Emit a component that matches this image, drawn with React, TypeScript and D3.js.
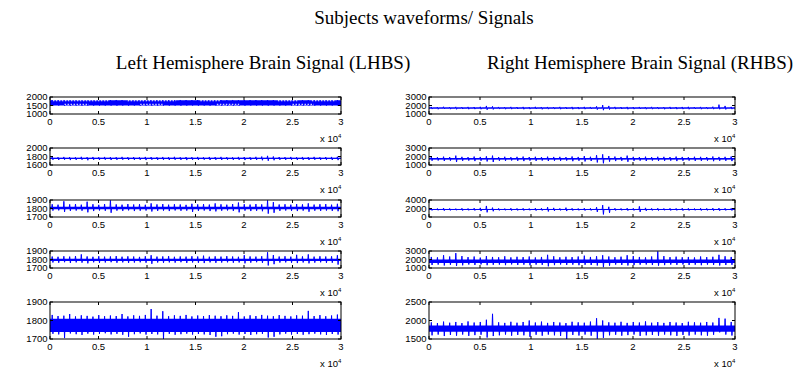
import React from 'react';
import * as d3 from 'd3';

// x axis is in samples, labelled in units of 10^4
const xTicks = [0, 5000, 10000, 15000, 20000, 25000, 30000];
const xTickLabels = ['0', '0.5', '1', '1.5', '2', '2.5', '3'];
const STEP = 600; // one envelope value every 600 samples

const titleMain = 'Subjects waveforms/ Signals';
const titleLeft = 'Left Hemisphere Brain Signal (LHBS)';
const titleRight = 'Right Hemisphere Brain Signal (RHBS)';

// ---- Left hemisphere ----
const lh1Domain = [1000, 2000];
const lh1Ticks = [1000, 1500, 2000];
const lh1Core = [1500, 1815];
const lh1Hi = [1822, 1818, 1824, 1820, 1816, 1822, 1819, 1823, 1817, 1821, 1820, 1824, 1818, 1822, 1816, 1821, 1819, 1823, 1820, 1817, 1822, 1818, 1824, 1820, 1816, 1822, 1819, 1823, 1817, 1821, 1820, 1824, 1818, 1822, 1816, 1821, 1819, 1823, 1820, 1817, 1822, 1818, 1824, 1820, 1816, 1822, 1819, 1823, 1817, 1821];
const lh1Lo = [1495, 1498, 1492, 1496, 1500, 1494, 1497, 1493, 1499, 1495, 1496, 1492, 1498, 1494, 1500, 1495, 1497, 1493, 1496, 1499, 1494, 1498, 1492, 1496, 1500, 1494, 1497, 1493, 1499, 1495, 1496, 1492, 1498, 1494, 1500, 1495, 1497, 1493, 1496, 1499, 1494, 1498, 1492, 1496, 1500, 1494, 1497, 1493, 1499, 1495];
// white dotted aliasing rows inside the first band: [start, end, level]
const lh1Dots = [
  [300, 6000, 1780], [8000, 13000, 1780], [15500, 17500, 1780], [23500, 25500, 1780], [27000, 29500, 1780],
  [1500, 4000, 1570], [9300, 11600, 1570], [17200, 19500, 1570], [25000, 27200, 1570],
];

const lh2Domain = [1600, 2000];
const lh2Ticks = [1600, 1800, 2000];
const lh2Core = [1742, 1770];
const lh2Hi = [1788, 1784, 1790, 1786, 1782, 1792, 1785, 1789, 1783, 1790, 1786, 1784, 1791, 1785, 1788, 1782, 1790, 1787, 1784, 1789, 1785, 1792, 1783, 1788, 1786, 1790, 1784, 1789, 1785, 1791, 1786, 1783, 1790, 1788, 1784, 1792, 1798, 1815, 1800, 1788, 1785, 1790, 1784, 1789, 1786, 1791, 1783, 1788, 1790, 1794];
const lh2Lo = [1722, 1718, 1724, 1716, 1720, 1725, 1712, 1722, 1719, 1724, 1717, 1721, 1725, 1718, 1720, 1722, 1716, 1724, 1719, 1721, 1718, 1723, 1720, 1716, 1722, 1719, 1724, 1717, 1721, 1718, 1723, 1720, 1722, 1716, 1721, 1719, 1712, 1700, 1712, 1722, 1719, 1724, 1717, 1721, 1718, 1723, 1720, 1722, 1718, 1715];

const lh3Domain = [1700, 1900];
const lh3Ticks = [1700, 1800, 1900];
const lh3Core = [1790, 1822];
const lh3Hi = [1850, 1845, 1885, 1848, 1852, 1845, 1880, 1850, 1843, 1852, 1895, 1848, 1845, 1852, 1847, 1850, 1844, 1860, 1848, 1852, 1845, 1850, 1847, 1843, 1855, 1848, 1851, 1846, 1860, 1849, 1845, 1852, 1870, 1850, 1846, 1852, 1848, 1895, 1875, 1847, 1850, 1845, 1852, 1848, 1860, 1846, 1850, 1852, 1845, 1855];
const lh3Lo = [1775, 1778, 1760, 1772, 1776, 1774, 1755, 1770, 1777, 1773, 1750, 1775, 1772, 1778, 1770, 1774, 1776, 1765, 1772, 1775, 1770, 1777, 1773, 1775, 1760, 1772, 1776, 1770, 1766, 1774, 1777, 1772, 1755, 1775, 1770, 1773, 1768, 1740, 1750, 1772, 1776, 1773, 1770, 1775, 1762, 1774, 1771, 1776, 1772, 1768];

const lh4Domain = [1700, 1900];
const lh4Ticks = [1700, 1800, 1900];
const lh4Core = [1782, 1810];
const lh4Hi = [1835, 1832, 1838, 1834, 1840, 1860, 1836, 1832, 1838, 1834, 1836, 1840, 1833, 1837, 1835, 1831, 1838, 1850, 1834, 1836, 1839, 1832, 1836, 1834, 1838, 1835, 1845, 1833, 1837, 1834, 1839, 1835, 1832, 1850, 1836, 1834, 1838, 1885, 1852, 1835, 1838, 1833, 1855, 1836, 1860, 1834, 1838, 1835, 1837, 1850];
const lh4Lo = [1765, 1762, 1768, 1760, 1766, 1763, 1755, 1767, 1761, 1765, 1768, 1762, 1766, 1760, 1764, 1767, 1762, 1750, 1765, 1761, 1766, 1763, 1768, 1760, 1765, 1762, 1758, 1766, 1761, 1764, 1767, 1762, 1765, 1755, 1763, 1768, 1761, 1730, 1745, 1764, 1766, 1762, 1758, 1765, 1755, 1763, 1767, 1761, 1762, 1740];

const lh5Domain = [1700, 1900];
const lh5Ticks = [1700, 1800, 1900];
const lh5Core = [1738, 1810];
const lh5Hi = [1830, 1824, 1826, 1835, 1822, 1828, 1825, 1821, 1829, 1823, 1827, 1824, 1835, 1822, 1828, 1825, 1830, 1862, 1826, 1850, 1823, 1828, 1825, 1830, 1822, 1827, 1824, 1829, 1826, 1823, 1828, 1825, 1845, 1822, 1828, 1824, 1830, 1826, 1823, 1829, 1825, 1822, 1828, 1826, 1852, 1824, 1829, 1823, 1827, 1832];
const lh5Lo = [1728, 1725, 1705, 1730, 1726, 1722, 1729, 1724, 1727, 1731, 1725, 1728, 1723, 1712, 1726, 1730, 1724, 1727, 1725, 1700, 1728, 1723, 1726, 1729, 1724, 1727, 1725, 1722, 1712, 1715, 1726, 1729, 1724, 1727, 1722, 1726, 1728, 1708, 1712, 1725, 1729, 1724, 1727, 1723, 1726, 1729, 1725, 1722, 1727, 1724];

// ---- Right hemisphere ----
const rh1Domain = [1000, 3000];
const rh1Ticks = [1000, 2000, 3000];
const rh1Core = [1640, 1760];
const rh1Hi = [1830, 1810, 1850, 1820, 1840, 1815, 1835, 1825, 1845, 1950, 1900, 1830, 1815, 1840, 1820, 1835, 1810, 1845, 1825, 1830, 1815, 1840, 1820, 1835, 1825, 1840, 1830, 1900, 2050, 1950, 1840, 1820, 1835, 1815, 1830, 1825, 1840, 1820, 1815, 1835, 1825, 1830, 1845, 1815, 1835, 1820, 1860, 2100, 1950, 1840];
const rh1Lo = [1580, 1560, 1590, 1570, 1555, 1585, 1565, 1575, 1560, 1500, 1540, 1580, 1565, 1570, 1590, 1560, 1575, 1585, 1555, 1570, 1580, 1565, 1590, 1560, 1575, 1570, 1585, 1520, 1450, 1530, 1570, 1585, 1560, 1575, 1590, 1565, 1570, 1580, 1560, 1585, 1570, 1575, 1560, 1590, 1565, 1580, 1570, 1560, 1540, 1575];

const rh2Domain = [1000, 3000];
const rh2Ticks = [1000, 2000, 3000];
const rh2Core = [1650, 1810];
const rh2Hi = [1950, 1920, 1980, 1940, 2100, 1960, 1930, 1990, 1950, 2020, 2100, 1940, 1970, 1920, 1960, 1990, 1940, 1970, 1930, 1980, 1950, 1960, 1930, 2000, 1950, 2050, 1970, 2150, 2250, 2050, 1990, 1950, 2100, 1960, 1940, 1980, 1930, 1970, 1960, 1940, 1990, 1950, 1930, 1970, 1960, 1940, 2000, 1950, 1960, 2000];
const rh2Lo = [1500, 1530, 1470, 1510, 1350, 1490, 1520, 1460, 1500, 1420, 1350, 1500, 1480, 1530, 1490, 1460, 1510, 1480, 1520, 1470, 1500, 1490, 1520, 1450, 1500, 1420, 1470, 1300, 1200, 1400, 1460, 1500, 1380, 1490, 1510, 1470, 1520, 1480, 1490, 1510, 1460, 1500, 1520, 1480, 1490, 1510, 1450, 1500, 1490, 1460];

const rh3Domain = [0, 4000];
const rh3Ticks = [0, 2000, 4000];
const rh3Core = [1650, 1900];
const rh3Hi = [2050, 2000, 2100, 2020, 1980, 2060, 2010, 2080, 2150, 2600, 2200, 2040, 1990, 2070, 2020, 2050, 2000, 2080, 2060, 2300, 2150, 2030, 2200, 2050, 2010, 2070, 2040, 2300, 2800, 2400, 2060, 2020, 2080, 2050, 2500, 2150, 2030, 2060, 2010, 2050, 2020, 2070, 2040, 2000, 2060, 2030, 2080, 2100, 2050, 2060];
const rh3Lo = [1550, 1580, 1500, 1560, 1590, 1520, 1570, 1540, 1400, 1100, 1350, 1560, 1580, 1520, 1550, 1530, 1580, 1510, 1540, 1300, 1450, 1560, 1400, 1530, 1570, 1520, 1550, 1200, 600, 1000, 1540, 1570, 1510, 1550, 1200, 1450, 1560, 1530, 1580, 1540, 1560, 1520, 1550, 1580, 1530, 1560, 1500, 1480, 1550, 1540];

const rh4Domain = [1000, 3000];
const rh4Ticks = [1000, 2000, 3000];
const rh4Core = [1600, 2000];
const rh4Hi = [2300, 2250, 2500, 2350, 2750, 2400, 2280, 2350, 2220, 2400, 2300, 2260, 2380, 2250, 2320, 2280, 2350, 2240, 2300, 2550, 2380, 2260, 2320, 2280, 2350, 2450, 2300, 2380, 2500, 2350, 2270, 2330, 2500, 2400, 2300, 2250, 2350, 2950, 2400, 2280, 2330, 2260, 2300, 2240, 2350, 2280, 2320, 2550, 2380, 2300];
const rh4Lo = [1350, 1400, 1300, 1380, 1250, 1320, 1410, 1360, 1420, 1330, 1380, 1400, 1340, 1420, 1360, 1390, 1330, 1400, 1370, 1200, 1340, 1410, 1360, 1390, 1330, 1380, 1350, 1300, 1100, 1280, 1400, 1360, 1300, 1340, 1390, 1410, 1350, 1280, 1340, 1400, 1370, 1410, 1350, 1390, 1330, 1400, 1360, 1300, 1350, 1380];

const rh5Domain = [1500, 2500];
const rh5Ticks = [1500, 2000, 2500];
const rh5Core = [1695, 1865];
const rh5Hi = [1950, 1930, 1970, 1940, 1960, 1930, 1975, 1945, 1960, 2020, 2180, 1950, 1935, 1965, 1940, 1960, 2000, 1945, 1970, 1935, 1960, 1945, 1930, 1965, 1950, 1940, 1970, 2060, 2000, 1950, 1940, 1965, 1935, 1960, 1945, 1975, 1940, 1955, 1935, 1960, 1945, 1930, 1965, 1950, 1940, 1960, 1945, 2070, 2050, 1960];
const rh5Lo = [1600, 1620, 1580, 1610, 1590, 1620, 1585, 1605, 1615, 1540, 1580, 1600, 1620, 1590, 1610, 1600, 1560, 1615, 1590, 1620, 1600, 1585, 1500, 1610, 1595, 1620, 1590, 1510, 1530, 1600, 1615, 1590, 1605, 1620, 1585, 1600, 1610, 1590, 1620, 1600, 1585, 1610, 1595, 1620, 1600, 1590, 1615, 1680, 1620, 1595];

type Panel = { domain: number[]; ticks: number[]; core: number[]; hi: number[]; lo: number[] };

const leftPanels: Panel[] = [
  { domain: lh1Domain, ticks: lh1Ticks, core: lh1Core, hi: lh1Hi, lo: lh1Lo },
  { domain: lh2Domain, ticks: lh2Ticks, core: lh2Core, hi: lh2Hi, lo: lh2Lo },
  { domain: lh3Domain, ticks: lh3Ticks, core: lh3Core, hi: lh3Hi, lo: lh3Lo },
  { domain: lh4Domain, ticks: lh4Ticks, core: lh4Core, hi: lh4Hi, lo: lh4Lo },
  { domain: lh5Domain, ticks: lh5Ticks, core: lh5Core, hi: lh5Hi, lo: lh5Lo },
];
const rightPanels: Panel[] = [
  { domain: rh1Domain, ticks: rh1Ticks, core: rh1Core, hi: rh1Hi, lo: rh1Lo },
  { domain: rh2Domain, ticks: rh2Ticks, core: rh2Core, hi: rh2Hi, lo: rh2Lo },
  { domain: rh3Domain, ticks: rh3Ticks, core: rh3Core, hi: rh3Hi, lo: rh3Lo },
  { domain: rh4Domain, ticks: rh4Ticks, core: rh4Core, hi: rh4Hi, lo: rh4Lo },
  { domain: rh5Domain, ticks: rh5Ticks, core: rh5Core, hi: rh5Hi, lo: rh5Lo },
];

// layout (MATLAB subplot boxes)
const WIDTH = 807;
const HEIGHT = 373;
const colX = [[50, 341], [429, 735]];
const rowTop = [97, 148, 200, 251, 302];
const rowH = [17, 17, 17, 17, 37];
const BLUE = '#0000ff';
const tickFont = '"Liberation Sans", Arial, sans-serif';
const titleFont = '"Liberation Serif", "Times New Roman", serif';

const SubPlot = ({ p, x0, x1, top, h, id, dots }: { p: Panel; x0: number; x1: number; top: number; h: number; id: string; dots?: number[][] }) => {
  const x = d3.scaleLinear().domain([0, 30000]).range([0, x1 - x0]);
  const y = d3.scaleLinear().domain(p.domain).range([h, 0]);
  const w = x1 - x0;
  const mid = (p.core[0] + p.core[1]) / 2;

  // narrow near-vertical spikes up to hi and down to lo, resting on the core band
  const pts: [number, number][] = [[0, mid]];
  p.hi.forEach((v, i) => {
    const s = i * STEP;
    pts.push([s + STEP * 0.3, mid]);
    pts.push([s + STEP * 0.38, v]);
    pts.push([s + STEP * 0.5, p.lo[i]]);
    pts.push([s + STEP * 0.58, mid]);
  });
  pts.push([30000, mid]);
  const line = d3.line<[number, number]>().x(d => x(d[0])).y(d => y(d[1]));
  const band = d3.area<number>().x(d => x(d)).y0(y(p.core[0])).y1(y(p.core[1]));

  return (
    <g transform={`translate(${x0},${top})`}>
      <clipPath id={id}><rect x={0} y={0} width={w} height={h} /></clipPath>
      <g clipPath={`url(#${id})`}>
        <path d={band([0, 30000]) || ''} fill={BLUE} />
        <path d={line(pts) || ''} fill="none" stroke={BLUE} strokeWidth={1} />
        {dots && dots.map((d, i) => (
          <line key={i} x1={x(d[0])} x2={x(d[1])} y1={y(d[2])} y2={y(d[2])} stroke="#fff" strokeWidth={1} strokeDasharray="1.5 1.5" />
        ))}
      </g>
      <rect x={0} y={0} width={w} height={h} fill="none" stroke="#000" strokeWidth={1} />
      {xTicks.map((t, i) => (
        <g key={t}>
          <line x1={x(t)} x2={x(t)} y1={h} y2={h - 3} stroke="#000" />
          <line x1={x(t)} x2={x(t)} y1={0} y2={3} stroke="#000" />
          <text x={x(t)} y={h + 11} textAnchor="middle" fontSize={9.5} fontFamily={tickFont} fill="#000">{xTickLabels[i]}</text>
        </g>
      ))}
      {p.ticks.map(t => (
        <g key={t}>
          <line x1={0} x2={3} y1={y(t)} y2={y(t)} stroke="#000" />
          <line x1={w} x2={w - 3} y1={y(t)} y2={y(t)} stroke="#000" />
          <text x={-2.5} y={y(t)} dy="0.35em" textAnchor="end" fontSize={9.5} fontFamily={tickFont} fill="#000">{t}</text>
        </g>
      ))}
      <text x={w - 3} y={h + 28} textAnchor="end" fontSize={9.5} fontFamily={tickFont} fill="#000">x 10</text>
      <text x={w - 3} y={h + 23.5} fontSize={6} fontFamily={tickFont} fill="#000">4</text>
    </g>
  );
};

export default function App() {
  return (
    <div style={{ position: 'fixed', left: 0, top: 0, background: '#fff' }}>
      <svg width={WIDTH} height={HEIGHT} style={{ display: 'block', background: '#fff' }}>
        <text x={424} y={24} textAnchor="middle" fontSize={19} fontFamily={titleFont}>{titleMain}</text>
        <text x={263} y={69} textAnchor="middle" fontSize={19} fontFamily={titleFont}>{titleLeft}</text>
        <text x={640} y={69} textAnchor="middle" fontSize={19} fontFamily={titleFont}>{titleRight}</text>
        {leftPanels.map((p, i) => (
          <SubPlot key={`l${i}`} id={`clipL${i}`} p={p} x0={colX[0][0]} x1={colX[0][1]} top={rowTop[i]} h={rowH[i]} dots={i === 0 ? lh1Dots : undefined} />
        ))}
        {rightPanels.map((p, i) => (
          <SubPlot key={`r${i}`} id={`clipR${i}`} p={p} x0={colX[1][0]} x1={colX[1][1]} top={rowTop[i]} h={rowH[i]} />
        ))}
      </svg>
    </div>
  );
}
